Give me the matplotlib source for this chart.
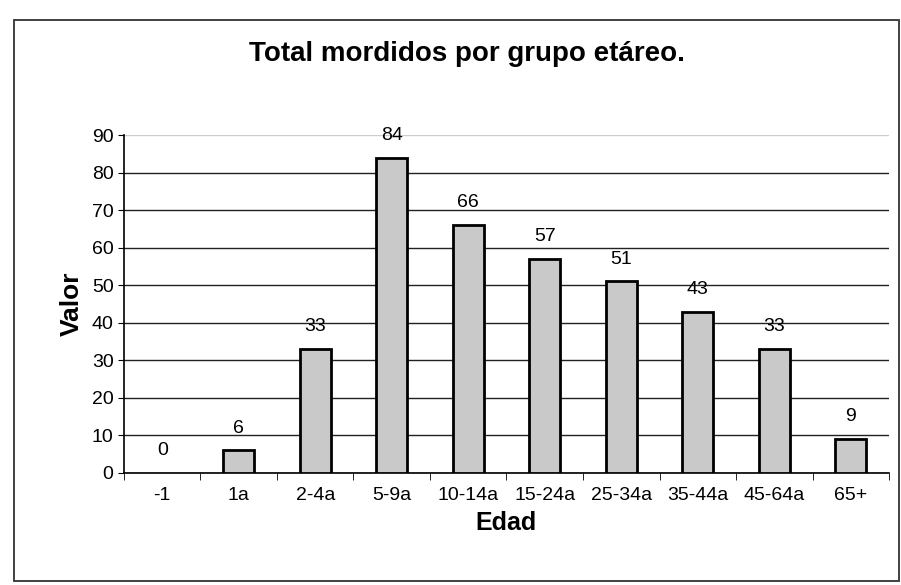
import matplotlib.pyplot as plt
import matplotlib.patches as mpatches
import numpy as np

plt.rcParams['font.family'] = ['Liberation Sans', 'DejaVu Sans']

# grupos de edad y total de mordidos
grupos = ['-1', '1a', '2-4a', '5-9a', '10-14a', '15-24a', '25-34a', '35-44a', '45-64a', '65+']
mordidos = [0, 6, 33, 84, 66, 57, 51, 43, 33, 9]

fig = plt.figure(figsize=(9.01, 5.85), dpi=100)
ax = fig.add_axes([0.1376, 0.1915, 0.8491, 0.5777])

# marco exterior del grafico
marco = mpatches.Rectangle((0.016, 0.006), 0.982, 0.96, transform=fig.transFigure,
                           fill=False, edgecolor='#333333', linewidth=1.3)
fig.patches.append(marco)

x = np.arange(len(grupos))
for xi, v in zip(x, mordidos):
    if v > 0:
        ax.bar(xi, v, width=0.41, color='#c9c9c9', edgecolor='black',
               linewidth=2.0, zorder=3)
    ax.annotate(str(v), (xi, v), xytext=(0, 10), textcoords='offset points',
                ha='center', va='bottom', fontsize=14)

ax.set_xlim(-0.5, len(grupos) - 0.5)
ax.set_ylim(0, 90)
ax.set_yticks(range(0, 91, 10))
ax.tick_params(axis='y', labelsize=14, length=4, direction='out')
ax.set_xticks(x)
ax.set_xticklabels(grupos, fontsize=14)
ax.tick_params(axis='x', length=0, pad=10)
ax.set_xticks(np.arange(-0.5, len(grupos), 1), minor=True)
ax.tick_params(axis='x', which='minor', length=5, direction='out')

ax.yaxis.grid(True, color='#222222', linewidth=1.0, zorder=0)
ax.set_axisbelow(True)
gl = ax.get_ygridlines()
gl[-1].set_color('#cccccc')

for s in ['top', 'right']:
    ax.spines[s].set_visible(False)
ax.spines['left'].set_linewidth(1.2)
ax.spines['bottom'].set_linewidth(1.2)

ax.set_xlabel('Edad', fontsize=18, fontweight='bold', labelpad=5)
ax.set_ylabel('Valor', fontsize=19, fontweight='bold', labelpad=6)
fig.text(0.518, 0.907, 'Total mordidos por grupo etáreo.', ha='center', va='center',
         fontsize=20, fontweight='bold')

fig.savefig('out.png', dpi=100)
